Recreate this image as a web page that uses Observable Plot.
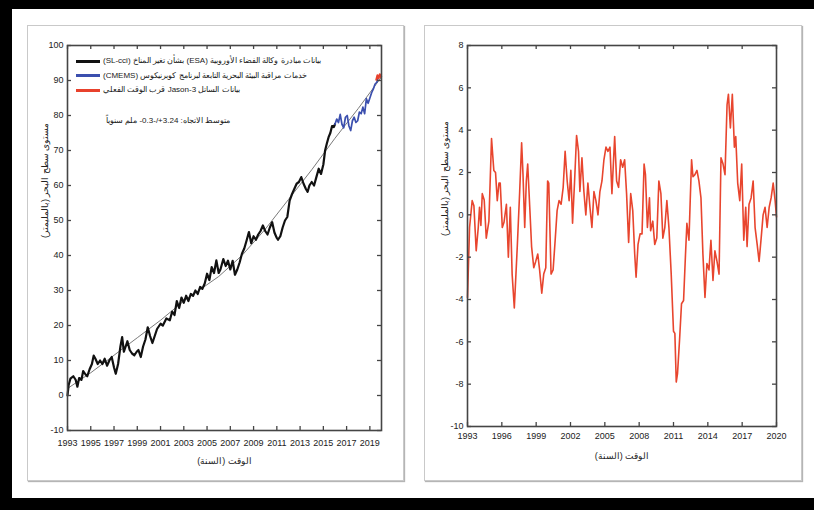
<!DOCTYPE html>
<html><head><meta charset="utf-8">
<script src="https://cdn.jsdelivr.net/npm/d3@7"></script>
<script src="https://cdn.jsdelivr.net/npm/@observablehq/plot@0.6"></script>
<style>
html,body{margin:0;padding:0;}
body{width:814px;height:510px;background:#fff;position:relative;overflow:hidden;font-family:"Liberation Sans Narrow","Liberation Sans",sans-serif;}
.bar{position:absolute;background:#000;}
.panel{position:absolute;box-sizing:border-box;border:1px solid #c9c9c9;box-shadow:1px 1px 1px #b5b5b5;background:#fff;}
.chart{position:absolute;}
.legend{position:absolute;font-size:8px;color:#1a1a1a;line-height:14px;}
.legend .row{display:flex;align-items:center;height:14.5px;}
.legend .sw{width:24px;height:0;border-top:3px solid;margin-right:3px;}
.trend{position:absolute;font-size:8px;color:#1a1a1a;white-space:nowrap;}
</style></head>
<body>
<div class="bar" style="left:0;top:0;width:814px;height:9px"></div>
<div class="bar" style="left:0;top:0;width:12px;height:510px"></div>
<div class="bar" style="left:0;top:498px;width:814px;height:12px"></div>
<div class="panel" style="left:27px;top:25px;width:377px;height:456px"></div>
<div class="panel" style="left:424px;top:25px;width:378px;height:456px"></div>
<div id="left" class="chart" style="left:27px;top:25px"></div>
<div id="right" class="chart" style="left:424px;top:25px"></div>
<div class="legend" style="left:76px;top:54px">
  <div class="row"><div class="sw" style="border-color:#111"></div><span dir="rtl">بيانات مبادرة وكالة الفضاء الأوروبية (ESA) بشأن تغير المناخ (SL-cci)</span></div>
  <div class="row"><div class="sw" style="border-color:#3b4fae"></div><span dir="rtl">خدمات مراقبة البيئة البحرية التابعة لبرنامج كوبرنيكوس (CMEMS)</span></div>
  <div class="row"><div class="sw" style="border-color:#e8412c"></div><span dir="rtl">بيانات الساتل Jason-3 قرب الوقت الفعلي</span></div>
</div>
<div class="trend" style="left:106px;top:116px"><span dir="rtl">متوسط الاتجاه: 3.24+/-0.3- ملم سنوياً</span></div>
<script>
// ---- Left panel data: global mean sea level (mm) ----
const esaYears = [1993.0,1993.1,1993.25,1993.5,1993.7,1993.85,1994.0,1994.2,1994.35,1994.55,1994.7,1994.9,1995.1,1995.25,1995.4,1995.6,1995.8,1996.0,1996.2,1996.4,1996.6,1996.8,1997.0,1997.15,1997.35,1997.55,1997.7,1997.85,1998.0,1998.15,1998.35,1998.55,1998.75,1998.95,1999.1,1999.3,1999.5,1999.7,1999.9,2000.1,2000.3,2000.5,2000.7,2001.0,2001.2,2001.5,2001.8,2002.0,2002.2,2002.4,2002.6,2002.8,2003.0,2003.2,2003.4,2003.6,2003.8,2004.0,2004.2,2004.4,2004.6,2004.8,2005.0,2005.2,2005.4,2005.6,2005.8,2006.0,2006.15,2006.4,2006.6,2006.8,2007.0,2007.2,2007.4,2007.6,2007.8,2008.0,2008.2,2008.4,2008.6,2008.8,2009.0,2009.2,2009.4,2009.6,2009.8,2010.0,2010.2,2010.4,2010.6,2010.8,2011.0,2011.1,2011.3,2011.5,2011.7,2011.9,2012.1,2012.3,2012.5,2012.7,2012.9,2013.1,2013.3,2013.5,2013.65,2013.8,2014.0,2014.2,2014.4,2014.6,2014.8,2015.0,2015.15,2015.3,2015.45,2015.6,2015.75,2015.9,2016.0];
const esaValues = [0,3,4.8,5.5,4.5,2.5,5,4.5,7,6,5.5,7.5,9,11.4,10.5,9,10,9,10.5,8.5,10,11,8,6.2,9,14,16.7,12.5,14,15.5,13,12,11.5,12.5,13,11,14,16,19.5,17,15,17,19,20.5,20,22,21.5,24,23,27,25,28,26.5,28.5,27,29,28.5,30,29,31,30.5,32,34.8,33,36.7,35,38.6,35,36,39,37,38.5,36,38.5,34.5,36,38,40.5,42,44.3,46.7,43.5,45.5,44.5,46,47,48.6,47,46,48,49.5,46.5,45,44.5,45.5,48,50,51,55.7,57.5,59,60.5,61,62.4,60.5,59,58.2,60,61,60,62.4,64.8,63.3,66,70,72,73.8,75,77,76.7,77.5];
const cmemsYears = [2016.0,2016.15,2016.3,2016.45,2016.6,2016.75,2016.9,2017.05,2017.2,2017.35,2017.5,2017.65,2017.8,2017.95,2018.1,2018.25,2018.4,2018.55,2018.7,2018.85,2019.0,2019.15,2019.3,2019.45,2019.6,2019.7];
const cmemsValues = [77.5,79,78,80.3,77.5,76.5,79.5,80,77,75.7,78.5,79.5,78,78.5,81,80.5,82.4,80.5,84.8,83.5,85,86.5,87.6,89,89.5,90.9];
const jasonYears = [2019.55,2019.65,2019.75,2019.85,2019.95];
const jasonValues = [90.2,91.5,90.6,91.8,91.0];
const trendYears = [1993,1995,1997,1999,2001,2003,2006,2008,2010,2012,2014,2016,2018,2020];
const trendValues = [2,6.5,11.5,16.5,21.5,27,34,40,47.5,56,64.5,73.5,82,91];
const leftXTicks = [1993,1995,1997,1999,2001,2003,2005,2007,2009,2011,2013,2015,2017,2019];
const leftYTicks = [-10,0,10,20,30,40,50,60,70,80,90,100];

// ---- Right panel data: detrended sea level (mm) ----
const detYears = [1993.0,1993.18,1993.41,1993.56,1993.76,1993.94,1994.05,1994.17,1994.29,1994.46,1994.64,1994.87,1995.1,1995.3,1995.45,1995.6,1995.75,1995.86,1996.04,1996.19,1996.4,1996.57,1996.74,1996.9,1997.09,1997.35,1997.56,1997.73,1997.85,1998.0,1998.14,1998.26,1998.44,1998.6,1998.79,1998.96,1999.14,1999.3,1999.49,1999.66,1999.84,2000.0,2000.1,2000.3,2000.48,2000.66,2000.83,2001.0,2001.18,2001.36,2001.53,2001.71,2001.88,2002.03,2002.18,2002.35,2002.53,2002.7,2002.82,2003.0,2003.17,2003.34,2003.52,2003.7,2003.87,2004.05,2004.22,2004.4,2004.57,2004.75,2004.92,2005.1,2005.27,2005.45,2005.62,2005.86,2006.03,2006.2,2006.38,2006.56,2006.73,2006.9,2007.08,2007.26,2007.44,2007.61,2007.73,2007.9,2008.08,2008.25,2008.43,2008.55,2008.72,2008.9,2009.0,2009.19,2009.36,2009.54,2009.72,2009.9,2010.07,2010.24,2010.42,2010.6,2010.8,2011.0,2011.12,2011.24,2011.35,2011.53,2011.7,2011.88,2012.05,2012.17,2012.35,2012.46,2012.58,2012.7,2012.87,2013.05,2013.22,2013.4,2013.57,2013.75,2013.92,2014.1,2014.27,2014.45,2014.62,2014.8,2014.98,2015.15,2015.33,2015.5,2015.68,2015.8,2015.97,2016.14,2016.32,2016.44,2016.61,2016.79,2016.96,2017.14,2017.31,2017.43,2017.6,2017.78,2017.96,2018.13,2018.31,2018.48,2018.66,2018.83,2019.0,2019.18,2019.36,2019.53,2019.71,2019.88,2020.0];
const detValues = [-3.9,-0.6,0.67,0.43,-1.7,-0.6,0.36,-0.5,1.0,0.7,-1.1,-0.3,3.6,2.1,2.0,0.67,1.5,1.5,-0.6,-0.35,0.5,-2.0,0.36,-2.8,-4.4,-1.5,1.1,3.4,1.9,-0.6,1.6,2.4,0.36,-1.5,-2.5,-2.2,-1.85,-2.6,-3.7,-2.8,-2.5,1.6,1.5,-2.8,-2.6,-1.2,0.2,0.67,0.5,1.3,3.0,1.6,0.67,2.1,-0.4,1.5,3.75,3.0,1.1,2.7,1.1,0.0,1.5,0.36,-0.6,1.1,0.67,0.0,1.1,1.6,2.6,3.2,3.0,3.2,1.0,3.7,1.6,1.3,2.6,2.25,2.6,1.0,-1.3,1.0,0.2,-1.85,-2.95,-1.4,-0.9,-0.9,2.4,1.9,-0.6,0.8,-0.75,-0.3,-1.4,-1.1,1.6,1.0,-1.1,-0.6,0.67,-0.6,-2.8,-5.5,-5.6,-7.9,-7.5,-5.9,-4.2,-4.05,-1.85,-0.4,-1.2,0.67,2.6,1.8,1.9,2.1,1.6,0.8,-1.85,-3.9,-2.3,-2.6,-1.2,-3.1,-1.7,-2.2,-2.8,2.7,2.4,1.9,5.2,5.7,4.1,5.7,3.2,3.7,1.5,0.67,2.4,-1.2,0.36,-1.5,0.5,0.8,1.6,-0.6,-1.4,-2.2,-1.1,0.0,0.36,-0.6,0.36,0.8,1.5,0.67,-0.1];
const rightXTicks = [1993,1996,1999,2002,2005,2008,2011,2014,2017,2020];
const rightYTicks = [-10,-8,-6,-4,-2,0,2,4,6,8];

const yLabel = "مستوى سطح البحر (بالمليمتر)";
const xLabel = "الوقت (السنة)";

const rows = (xs, ys) => xs.map((x, i) => ({year: x, value: ys[i]}));
const rtl = s => "\u200F" + s + "\u200F";
const font = '"Liberation Sans Narrow","Liberation Sans",sans-serif';
const frameColor = "#454545";

function panel({width, height, mL, mR, mT, mB, xDomain, yDomain, xTicks, yTicks, xPad, titleDy, marks}) {
  const iw = width - mL - mR, ih = height - mT - mB, tl = 4;
  return Plot.plot({
    width, height, marginLeft: mL, marginRight: mR, marginTop: mT, marginBottom: mB,
    x: {domain: xDomain}, y: {domain: yDomain},
    style: {background: "transparent", fontFamily: font, fontSize: "9px", color: "#222", overflow: "visible"},
    marks: [
      ...marks,
      Plot.tickX(xTicks, {x: d => d, insetTop: ih - tl, stroke: frameColor, strokeWidth: 1.3}),
      Plot.tickX(xTicks, {x: d => d, insetBottom: ih - tl, stroke: frameColor, strokeWidth: 1.3}),
      Plot.tickY(yTicks, {y: d => d, insetRight: iw - tl, stroke: frameColor, strokeWidth: 1.3}),
      Plot.tickY(yTicks, {y: d => d, insetLeft: iw - tl, stroke: frameColor, strokeWidth: 1.3}),
      Plot.axisX({ticks: xTicks, tickSize: 0, tickPadding: xPad, tickFormat: d => String(d), label: null}),
      Plot.axisY({ticks: yTicks, tickSize: 0, tickPadding: 4, tickFormat: d => String(d), label: null}),
      Plot.frame({stroke: frameColor, strokeWidth: 1.6}),
      Plot.text([rtl(xLabel)], {frameAnchor: "bottom", dy: titleDy, fontSize: 9, fill: "#222"}),
      Plot.text([rtl(yLabel)], {frameAnchor: "left", dx: -22, rotate: -90, fontSize: 9, fill: "#222"})
    ]
  });
}

document.getElementById("left").append(panel({
  width: 376, height: 455, mL: 40, mR: 22, mT: 20, mB: 50,
  xDomain: [1993, 2020], yDomain: [-10, 100], xTicks: leftXTicks, yTicks: leftYTicks, xPad: 9, titleDy: 33,
  marks: [
    Plot.line(rows(trendYears, trendValues), {x: "year", y: "value", stroke: "#7a7a7a", strokeWidth: 1}),
    Plot.line(rows(esaYears, esaValues), {x: "year", y: "value", stroke: "#111", strokeWidth: 2.2}),
    Plot.line(rows(cmemsYears, cmemsValues), {x: "year", y: "value", stroke: "#3b4fae", strokeWidth: 1.7}),
    Plot.line(rows(jasonYears, jasonValues), {x: "year", y: "value", stroke: "#e8412c", strokeWidth: 2})
  ]
}));

document.getElementById("right").append(panel({
  width: 378, height: 455, mL: 43, mR: 26, mT: 20, mB: 54,
  xDomain: [1993, 2020], yDomain: [-10, 8], xTicks: rightXTicks, yTicks: rightYTicks, xPad: 6, titleDy: 32,
  marks: [
    Plot.line(rows(detYears, detValues), {x: "year", y: "value", stroke: "#e8452e", strokeWidth: 1.6})
  ]
}));
</script>
</body></html>
